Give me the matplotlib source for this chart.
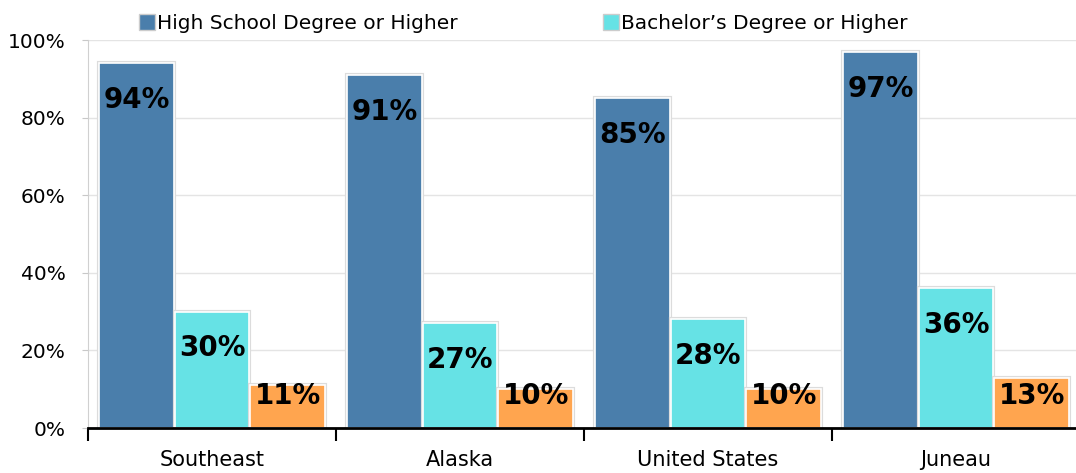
from matplotlib import pyplot as plt
from matplotlib.patches import Patch
import matplotlib.patheffects as pe
import numpy as np

categories = ["Southeast", "Alaska", "United States", "Juneau"]
high_school = [94, 91, 85, 97]
bachelors = [30, 27, 28, 36]
graduate = [11, 10, 10, 13]
series_names = ["High School Degree or Higher", "Bachelor\u2019s Degree or Higher"]
y_ticks = [0, 20, 40, 60, 80, 100]

colors = ["#4a7eab", "#66e2e5", "#ffa54f"]

fig = plt.figure(figsize=(10.76, 4.73), dpi=100)
ax = fig.add_axes([88 / 1076, 1 - 428 / 473, 992 / 1076, 388 / 473])

x = np.arange(len(categories))
width = 0.30
offsets = [-0.305, 0.0, 0.305]
shadow = [pe.Stroke(linewidth=3, foreground="#dcdcdc"), pe.Normal()]

for vals, off, col in zip([high_school, bachelors, graduate], offsets, colors):
    bars = ax.bar(x + off, vals, width, color=col, edgecolor="white",
                  linewidth=1.2, zorder=3)
    for b in bars:
        b.set_path_effects(shadow)
    for xi, v in zip(x + off, vals):
        ax.text(xi, max(v - 9.5, 8.2), f"{v}%", ha="center", va="center",
                fontsize=20, fontweight="bold", color="black", zorder=4)

ax.set_xlim(-0.5, len(categories) - 0.5)
ax.set_ylim(0, 100)
ax.set_yticks(y_ticks)
ax.set_yticklabels([f"{t}%" for t in y_ticks], fontsize=14.5)
ax.yaxis.grid(True, color="#e4e4e4", linewidth=1, zorder=0)
ax.tick_params(axis="y", length=4, color="#c8c8c8", pad=12)

ax.set_xticks(x)
ax.set_xticklabels(categories, fontsize=15)
ax.tick_params(axis="x", which="major", length=0, pad=16)
ax.set_xticks(np.arange(-0.5, len(categories), 1), minor=True)
ax.tick_params(axis="x", which="minor", length=9, width=1.5, color="black",
               direction="out")

for s in ["top", "right"]:
    ax.spines[s].set_visible(False)
ax.spines["left"].set_color("#d0d0d0")
ax.spines["bottom"].set_color("black")
ax.spines["bottom"].set_linewidth(2)
ax.spines["bottom"].set_zorder(5)

handles = [Patch(facecolor=colors[0], edgecolor="#cccccc"),
           Patch(facecolor=colors[1], edgecolor="#cccccc")]
fig.legend(handles, series_names, loc="upper left", bbox_to_anchor=(125 / 1076, 1.0),
           ncol=2, frameon=False, fontsize=14.5, handlelength=0.8, handleheight=0.8,
           handletextpad=0.1, columnspacing=7.2, borderaxespad=0.3)

fig.savefig("out.png", dpi=100)
